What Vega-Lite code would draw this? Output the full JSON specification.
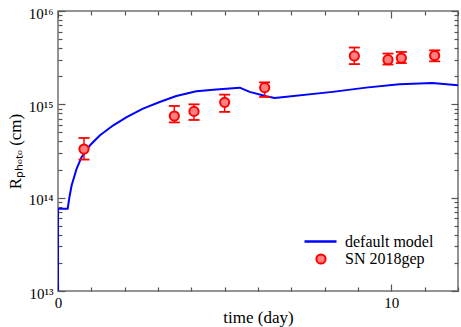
{
  "$schema": "https://vega.github.io/schema/vega-lite/v6.json",
  "width": 400,
  "height": 280,
  "autosize": "none",
  "padding": {"left": 58, "top": 11, "right": 3, "bottom": 36},
  "config": {
    "view": {"stroke": "#707070", "strokeWidth": 1.5},
    "font": "Liberation Serif",
    "axis": {"grid": false, "domain": false, "tickColor": "#555555", "tickWidth": 1.2, "labelFont": "Liberation Serif", "titleFont": "Liberation Serif", "labelColor": "black", "titleColor": "black", "titleFontWeight": "normal", "labelFlush": false, "labelOverlap": false},
    "legend": {"labelFont": "Liberation Serif", "labelColor": "black", "labelFontSize": 16, "padding": 0, "rowPadding": 0}
  },
  "datasets": {
    "model": [
      {"i": 0, "day": 0, "R": 1e13, "series": "default model"},
      {"i": 1, "day": 0, "R": 7.6e13, "series": "default model"},
      {"i": 2, "day": 0.29, "R": 7.6e13, "series": "default model"},
      {"i": 3, "day": 0.34, "R": 1.0e14, "series": "default model"},
      {"i": 4, "day": 0.41, "R": 1.36e14, "series": "default model"},
      {"i": 5, "day": 0.56, "R": 2.05e14, "series": "default model"},
      {"i": 6, "day": 0.71, "R": 2.73e14, "series": "default model"},
      {"i": 7, "day": 0.96, "R": 3.64e14, "series": "default model"},
      {"i": 8, "day": 1.26, "R": 4.66e14, "series": "default model"},
      {"i": 9, "day": 1.66, "R": 5.96e14, "series": "default model"},
      {"i": 10, "day": 2.06, "R": 7.31e14, "series": "default model"},
      {"i": 11, "day": 2.55, "R": 9.0e14, "series": "default model"},
      {"i": 12, "day": 3.05, "R": 1.06e15, "series": "default model"},
      {"i": 13, "day": 3.55, "R": 1.23e15, "series": "default model"},
      {"i": 14, "day": 4.15, "R": 1.38e15, "series": "default model"},
      {"i": 15, "day": 4.75, "R": 1.44e15, "series": "default model"},
      {"i": 16, "day": 5.45, "R": 1.51e15, "series": "default model"},
      {"i": 17, "day": 5.75, "R": 1.36e15, "series": "default model"},
      {"i": 18, "day": 6.25, "R": 1.22e15, "series": "default model"},
      {"i": 19, "day": 6.5, "R": 1.17e15, "series": "default model"},
      {"i": 20, "day": 8.24, "R": 1.36e15, "series": "default model"},
      {"i": 21, "day": 9.24, "R": 1.51e15, "series": "default model"},
      {"i": 22, "day": 10.24, "R": 1.64e15, "series": "default model"},
      {"i": 23, "day": 11.23, "R": 1.69e15, "series": "default model"},
      {"i": 24, "day": 12.0, "R": 1.6e15, "series": "default model"}
    ],
    "obs": [
      {"day": 0.78, "R": 3.32e14, "lo": 2.56e14, "hi": 4.36e14, "series": "SN 2018gep"},
      {"day": 3.49, "R": 7.5e14, "lo": 6.4e14, "hi": 9.6e14, "series": "SN 2018gep"},
      {"day": 4.08, "R": 8.4e14, "lo": 6.8e14, "hi": 1.0e15, "series": "SN 2018gep"},
      {"day": 5.0, "R": 1.05e15, "lo": 8.3e14, "hi": 1.27e15, "series": "SN 2018gep"},
      {"day": 6.2, "R": 1.51e15, "lo": 1.2e15, "hi": 1.72e15, "series": "SN 2018gep"},
      {"day": 8.89, "R": 3.3e15, "lo": 2.7e15, "hi": 4.06e15, "series": "SN 2018gep"},
      {"day": 9.9, "R": 3.01e15, "lo": 2.67e15, "hi": 3.5e15, "series": "SN 2018gep"},
      {"day": 10.3, "R": 3.13e15, "lo": 2.77e15, "hi": 3.64e15, "series": "SN 2018gep"},
      {"day": 11.3, "R": 3.33e15, "lo": 2.89e15, "hi": 3.79e15, "series": "SN 2018gep"}
    ]
  },
  "layer": [
    {
      "data": {"name": "model"},
      "mark": {"type": "line", "strokeWidth": 2, "clip": true, "strokeJoin": "round"},
      "encoding": {
        "x": {"field": "day", "type": "quantitative", "scale": {"domain": [0, 12], "nice": false, "zero": false},
          "axis": {"orient": "bottom", "values": [0,1,2,3,4,5,6,7,8,9,10,11,12],
            "tickSize": {"condition": {"test": "datum.value % 10 === 0", "value": -7}, "value": -4},
            "labelExpr": "datum.value % 10 === 0 ? datum.label : ''",
            "labelFontSize": 15, "labelPadding": 11, "title": "time (day)", "titleFontSize": 17, "titlePadding": -4}},
        "y": {"field": "R", "type": "quantitative", "scale": {"type": "log", "domain": [1e13, 1e16], "nice": false},
          "axis": {"orient": "left",
            "values": [1e13,2e13,3e13,4e13,5e13,6e13,7e13,8e13,9e13,1e14,2e14,3e14,4e14,5e14,6e14,7e14,8e14,9e14,1e15,2e15,3e15,4e15,5e15,6e15,7e15,8e15,9e15,1e16],
            "tickSize": {"condition": {"test": "abs(log(datum.value)/LN10 - round(log(datum.value)/LN10)) < 0.001", "value": -7}, "value": -4},
            "labelExpr": "abs(log(datum.value)/LN10 - round(log(datum.value)/LN10)) < 0.001 ? '10' + (round(log(datum.value)/LN10) == 13 ? '¹³' : round(log(datum.value)/LN10) == 14 ? '¹⁴' : round(log(datum.value)/LN10) == 15 ? '¹⁵' : '¹⁶') : ''",
            "labelFontSize": 15, "labelPadding": 12, "labelOffset": 2, "title": "Rₚₕₒₜₒ (cm)", "titleFontSize": 17, "titlePadding": 4}},
        "order": {"field": "i", "type": "quantitative"},
        "color": {"field": "series", "type": "nominal", "scale": {"range": ["#0000ff"]},
          "legend": {"title": null, "orient": "none", "legendX": 245, "legendY": 213, "symbolType": "stroke", "symbolStrokeWidth": 2.5, "symbolSize": 1024, "labelOffset": 7}}
      }
    },
    {
      "data": {"name": "obs"},
      "mark": {"type": "rule", "color": "#ff0000", "strokeWidth": 1.5},
      "encoding": {
        "x": {"field": "day", "type": "quantitative", "scale": {"domain": [0, 12], "nice": false, "zero": false},
          "axis": {"orient": "top", "values": [0,1,2,3,4,5,6,7,8,9,10,11,12],
            "tickSize": {"condition": {"test": "datum.value % 10 === 0", "value": -7}, "value": -4},
            "labels": false, "title": null}},
        "y": {"field": "lo", "type": "quantitative", "scale": {"type": "log", "domain": [1e13, 1e16], "nice": false},
          "axis": {"orient": "right",
            "values": [1e13,2e13,3e13,4e13,5e13,6e13,7e13,8e13,9e13,1e14,2e14,3e14,4e14,5e14,6e14,7e14,8e14,9e14,1e15,2e15,3e15,4e15,5e15,6e15,7e15,8e15,9e15,1e16],
            "tickSize": {"condition": {"test": "abs(log(datum.value)/LN10 - round(log(datum.value)/LN10)) < 0.001", "value": -7}, "value": -4},
            "labels": false, "title": null}},
        "y2": {"field": "hi"}
      }
    },
    {
      "data": {"name": "obs"},
      "mark": {"type": "tick", "orient": "horizontal", "color": "#ff0000", "size": 11, "thickness": 1.8, "opacity": 1},
      "encoding": {
        "x": {"field": "day", "type": "quantitative", "scale": {"domain": [0, 12], "nice": false, "zero": false}, "axis": null},
        "y": {"field": "lo", "type": "quantitative", "scale": {"type": "log", "domain": [1e13, 1e16], "nice": false}, "axis": null}
      }
    },
    {
      "data": {"name": "obs"},
      "mark": {"type": "tick", "orient": "horizontal", "color": "#ff0000", "size": 11, "thickness": 1.8, "opacity": 1},
      "encoding": {
        "x": {"field": "day", "type": "quantitative", "scale": {"domain": [0, 12], "nice": false, "zero": false}, "axis": null},
        "y": {"field": "hi", "type": "quantitative", "scale": {"type": "log", "domain": [1e13, 1e16], "nice": false}, "axis": null}
      }
    },
    {
      "data": {"name": "obs"},
      "mark": {"type": "point", "shape": "circle", "filled": true, "size": 85, "stroke": "#ff0000", "strokeWidth": 2, "opacity": 1, "fillOpacity": 1},
      "encoding": {
        "x": {"field": "day", "type": "quantitative", "scale": {"domain": [0, 12], "nice": false, "zero": false}, "axis": null},
        "y": {"field": "R", "type": "quantitative", "scale": {"type": "log", "domain": [1e13, 1e16], "nice": false}, "axis": null},
        "fill": {"field": "series", "type": "nominal", "scale": {"range": ["#ff8080"]},
          "legend": {"title": null, "orient": "none", "legendX": 255, "legendY": 240, "symbolType": "circle", "symbolSize": 85, "symbolStrokeColor": "#ff0000", "symbolStrokeWidth": 2, "symbolFillColor": "#ff8080", "labelOffset": 16}}
      }
    }
  ],
  "resolve": {"axis": {"x": "independent", "y": "independent"}}
}
